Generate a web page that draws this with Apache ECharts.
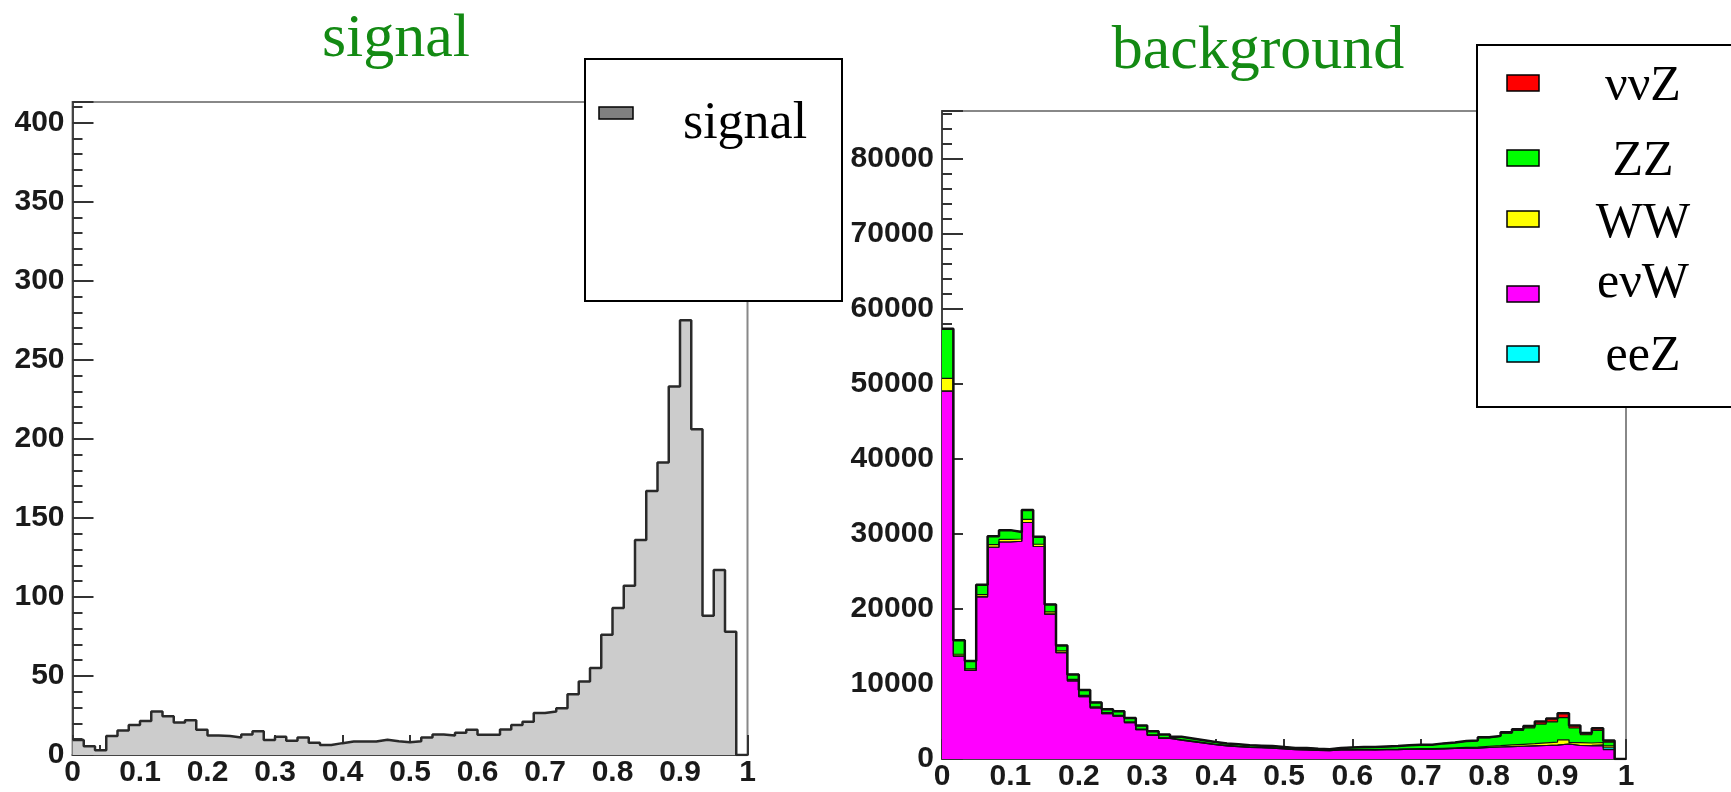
<!DOCTYPE html>
<html>
<head>
<meta charset="utf-8">
<script src="https://cdn.jsdelivr.net/npm/echarts@6/dist/echarts.min.js"></script>
<style>
  html, body { margin: 0; padding: 0; background: #fff; }
  #chart { width: 1731px; height: 792px; }
</style>
</head>
<body>
<div id="chart"></div>
<script>
// 60 bins between 0 and 1
const nBins = 60;

// signal histogram (left)
const signal = [
  9.5, 5.5, 3, 12, 15.5, 19, 21.5, 27.5, 24.5, 20.5,
  22, 16, 12.3, 12, 11, 13, 15, 9.5, 11.5, 9,
  11, 7.8, 6.3, 7.5, 8.5, 8.5, 8.5, 9.7, 8.7, 8,
  8.7, 11, 13, 12.4, 14, 16, 12.8, 12.8, 16.2, 19,
  21, 26.5, 27.5, 29.5, 38.5, 46.5, 55, 76, 93, 107,
  136, 167, 185, 233, 275, 206, 88, 117, 78, 0
];

// background stack (right), bottom to top
const evW = [
  49000, 13700, 11800, 21600, 28200, 28900, 29000, 31500, 28300, 19300,
  14150, 10400, 8300, 6800, 6050, 5700, 4850, 3900, 3150, 2750,
  2500, 2300, 2100, 1900, 1750, 1650, 1550, 1500, 1450, 1350,
  1250, 1220, 1150, 1100, 1200, 1200, 1250, 1200, 1250, 1250,
  1300, 1300, 1300, 1350, 1400, 1450, 1450, 1550, 1600, 1650,
  1700, 1750, 1800, 1850, 2000, 1800, 1750, 1750, 1250, 0
];
const eeZ = [
  0, 0, 0, 0, 0, 0, 0, 0, 0, 0,
  0, 0, 0, 0, 0, 0, 0, 0, 0, 0,
  0, 0, 0, 0, 0, 0, 0, 0, 0, 0,
  0, 0, 0, 0, 0, 0, 0, 0, 0, 0,
  0, 0, 0, 0, 0, 0, 0, 0, 0, 0,
  0, 0, 0, 0, 0, 0, 80, 120, 250, 0
];
const WW = [
  1700, 250, 200, 300, 350, 350, 300, 400, 300, 300,
  250, 200, 180, 150, 120, 120, 100, 90, 80, 80,
  70, 70, 70, 60, 60, 50, 50, 50, 50, 50,
  40, 40, 40, 40, 50, 50, 50, 50, 50, 60,
  60, 70, 70, 80, 90, 100, 120, 150, 180, 220,
  260, 300, 350, 400, 550, 380, 300, 330, 250, 0
];
const ZZ = [
  6600, 1880, 1050, 1290, 1100, 1230, 940, 1250, 990, 980,
  720, 670, 710, 580, 470, 525, 505, 460, 450, 430,
  395, 360, 320, 290, 265, 260, 240, 230, 220, 200,
  190, 220, 170, 160, 230, 290, 300, 340, 360, 410,
  470, 530, 530, 650, 700, 840, 880, 1150, 1220, 1570,
  1860, 2100, 2500, 2700, 2950, 1950, 1100, 1600, 500, 0
];
const vvZ = [
  0, 0, 0, 0, 0, 0, 0, 0, 0, 0,
  0, 0, 0, 0, 0, 0, 0, 0, 0, 0,
  0, 0, 0, 0, 0, 0, 0, 0, 0, 0,
  0, 0, 0, 0, 0, 0, 0, 0, 0, 0,
  0, 0, 0, 0, 0, 0, 0, 50, 80, 120,
  150, 240, 330, 450, 600, 320, 230, 290, 200, 0
];

const bgNames = ['eνW', 'eeZ', 'WW', 'ZZ', 'ννZ'];
const bgData = [evW, eeZ, WW, ZZ, vvZ];
const bgColors = ['#ff00ff', '#00ffff', '#ffff00', '#00ff00', '#ff0000'];
const legendOrder = ['ννZ', 'ZZ', 'WW', 'eνW', 'eeZ'];

// bin left edges + closing point at x=1
function steps(vals) {
  const pts = vals.map((v, i) => [i / nBins, v]);
  pts.push([1, vals[vals.length - 1]]);
  return pts;
}

// running sums of the stack, like THStack
const cumul = [];
bgData.forEach((vals, k) => {
  cumul.push(vals.map((v, i) => v + (k ? cumul[k - 1][i] : 0)));
});

const labelFont = { color: '#1a1a1a', fontFamily: 'Liberation Sans', fontWeight: 'bold', fontSize: 30 };
const tickStyle = { color: '#333', width: 2 };

function xAxisCfg(gi) {
  return {
    gridIndex: gi, type: 'value', min: 0, max: 1, interval: 0.1,
    axisLine: { lineStyle: { color: '#444', width: 2 } },
    axisTick: { inside: true, length: 20, lineStyle: tickStyle },
    minorTick: { show: true, splitNumber: 5, length: 10, lineStyle: tickStyle },
    splitLine: { show: false },
    axisLabel: Object.assign({ margin: 3, formatter: v => String(+v.toFixed(1)) }, labelFont)
  };
}
function yAxisCfg(gi, max, interval) {
  return {
    gridIndex: gi, type: 'value', min: 0, max: max, interval: interval,
    axisLine: { show: true, lineStyle: { color: '#444', width: 2 } },
    axisTick: { inside: true, length: 21, lineStyle: tickStyle },
    minorTick: { show: true, splitNumber: 5, length: 10, lineStyle: tickStyle },
    splitLine: { show: false },
    axisLabel: Object.assign({ margin: 8, showMaxLabel: false, formatter: v => String(v) }, labelFont)
  };
}

const series = [{
  type: 'line', xAxisIndex: 0, yAxisIndex: 0, step: 'end', symbol: 'none',
  data: steps(signal),
  lineStyle: { color: '#2a2a2a', width: 2.5 },
  areaStyle: { color: '#cccccc', opacity: 1 }
}];
// draw the top of the stack first, lower layers paint over it
for (let k = bgData.length - 1; k >= 0; k--) {
  series.push({
    name: bgNames[k], type: 'line', xAxisIndex: 1, yAxisIndex: 1,
    step: 'end', symbol: 'none',
    data: steps(cumul[k]),
    lineStyle: { color: '#111', width: k === bgData.length - 1 ? 2.5 : 1.2 },
    areaStyle: { color: bgColors[k], opacity: 1 }
  });
}

// legend boxes and titles
const serif = 'Liberation Serif';
const graphic = [
  { type: 'text', x: 396, y: 40, z: 100,
    style: { text: 'signal', font: '62px "' + serif + '"', fill: '#138a13', align: 'center', verticalAlign: 'middle' } },
  { type: 'text', x: 1258, y: 52, z: 100,
    style: { text: 'background', font: '62px "' + serif + '"', fill: '#138a13', align: 'center', verticalAlign: 'middle' } },
  { type: 'rect', z: 100, shape: { x: 585, y: 59, width: 257, height: 242 },
    style: { fill: '#fff', stroke: '#000', lineWidth: 2 } },
  { type: 'rect', z: 101, shape: { x: 599, y: 107, width: 34, height: 12 },
    style: { fill: '#808080', stroke: '#000', lineWidth: 1.5 } },
  { type: 'text', x: 745, y: 124, z: 101,
    style: { text: 'signal', font: '52px "' + serif + '"', fill: '#000', align: 'center', verticalAlign: 'middle' } },
  { type: 'rect', z: 100, shape: { x: 1477, y: 45, width: 270, height: 362 },
    style: { fill: '#fff', stroke: '#000', lineWidth: 2 } }
];
const swatchY = [83, 158, 219, 294, 354];
const textY = [87, 162, 224, 284, 357];
legendOrder.forEach((name, i) => {
  const k = bgNames.indexOf(name);
  graphic.push({ type: 'rect', z: 101, shape: { x: 1507, y: swatchY[i] - 8, width: 32, height: 16 },
    style: { fill: bgColors[k], stroke: '#000', lineWidth: 1.5 } });
  graphic.push({ type: 'text', x: 1643, y: textY[i], z: 101,
    style: { text: name, font: '50px "' + serif + '"', fill: '#000', align: 'center', verticalAlign: 'middle' } });
});

const chart = echarts.init(document.getElementById('chart'));
chart.setOption({
  animation: false,
  backgroundColor: '#fff',
  grid: [
    { left: 72.5, top: 102, width: 675, height: 653, show: true, borderColor: '#888', borderWidth: 2, backgroundColor: '#fff' },
    { left: 942, top: 111, width: 684, height: 649, show: true, borderColor: '#888', borderWidth: 2, backgroundColor: '#fff' }
  ],
  xAxis: [xAxisCfg(0), xAxisCfg(1)],
  yAxis: [yAxisCfg(0, 413, 50), yAxisCfg(1, 86300, 10000)],
  series: series,
  graphic: graphic
});
</script>
</body>
</html>
